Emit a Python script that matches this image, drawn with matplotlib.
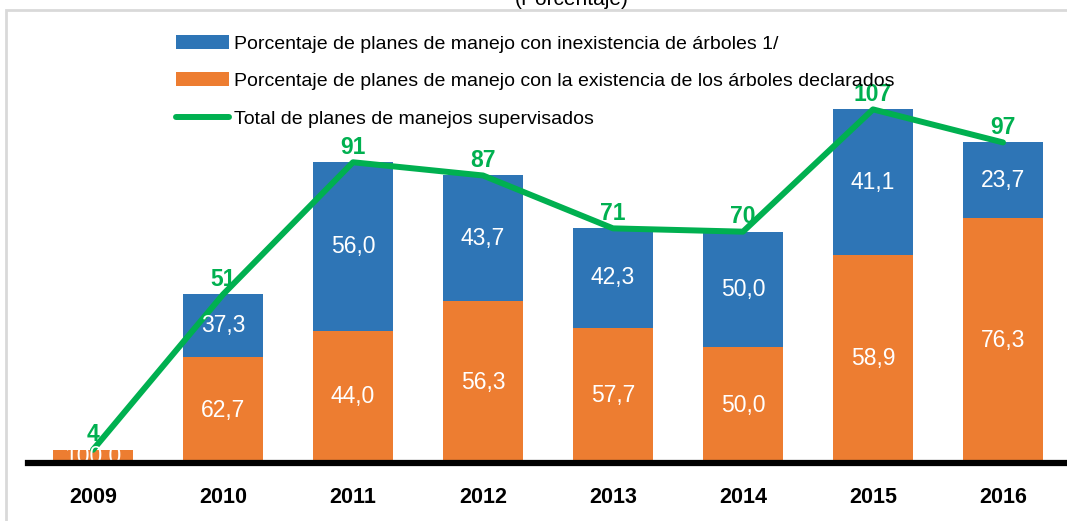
import numpy as np
import matplotlib.pyplot as plt
from matplotlib.patches import Rectangle

# datos
anios = ['2009', '2010', '2011', '2012', '2013', '2014', '2015', '2016']
total = [4, 51, 91, 87, 71, 70, 107, 97]
pct_inexistencia = [0.0, 37.3, 56.0, 43.7, 42.3, 50.0, 41.1, 23.7]
pct_existencia = [100.0, 62.7, 44.0, 56.3, 57.7, 50.0, 58.9, 76.3]

lbl_azul = 'Porcentaje de planes de manejo con inexistencia de árboles 1/'
lbl_naranja = 'Porcentaje de planes de manejo con la existencia de los árboles declarados'
lbl_verde = 'Total de planes de manejos supervisados'

azul = '#2E75B6'
naranja = '#ED7D31'
verde = '#00B050'

plt.rcParams['font.family'] = ['Liberation Sans', 'DejaVu Sans']

fig = plt.figure(figsize=(10.67, 5.21), dpi=100)
ax = fig.add_axes([28/1067, 58/521, 1040/1067, 463/521])

x = np.arange(len(anios))
tot = np.array(total, dtype=float)
h_nar = tot * np.array(pct_existencia) / 100
h_azu = tot * np.array(pct_inexistencia) / 100

b1 = ax.bar(x, h_nar, width=0.615, color=naranja, label=lbl_naranja, zorder=2)
b2 = ax.bar(x, h_azu, width=0.615, bottom=h_nar, color=azul, label=lbl_azul, zorder=2)
ln, = ax.plot(x, tot, color=verde, lw=4.3, solid_capstyle='round', label=lbl_verde, zorder=3)

# etiquetas de porcentaje dentro de las barras
for i in range(len(x)):
    ax.text(x[i], h_nar[i] / 2, f'{pct_existencia[i]:.1f}'.replace('.', ','),
            ha='center', va='center', color='white', fontsize=16.5, zorder=4)
    if pct_inexistencia[i] > 0:
        ax.text(x[i], h_nar[i] + h_azu[i] / 2, f'{pct_inexistencia[i]:.1f}'.replace('.', ','),
                ha='center', va='center', color='white', fontsize=16.5, zorder=4)
    ax.annotate(str(total[i]), (x[i], tot[i]), xytext=(0, 2.5), textcoords='offset points',
                ha='center', va='bottom', color=verde, fontsize=16.5, fontweight='bold', zorder=5)

ax.set_xlim(-0.5, 7.5)
ax.set_ylim(0, 140.1)
ax.axhline(0, color='black', lw=4.5, zorder=6, clip_on=False)
for s in ax.spines.values():
    s.set_visible(False)
ax.set_yticks([])
ax.set_xticks(x)
ax.set_xticklabels(anios, fontsize=15.5, fontweight='bold')
ax.tick_params(axis='x', length=0, pad=17)

ax.legend(handles=[b2, b1, ln], loc='upper left', bbox_to_anchor=(176/1067, 1 - 35/521),
          bbox_transform=fig.transFigure, frameon=False, fontsize=14.0,
          handlelength=2.7, handleheight=0.7, handletextpad=0.3, labelspacing=1.02,
          borderpad=0, borderaxespad=0)

# marco gris y titulo cortado
fig.patches.append(Rectangle((6/1067, -0.05), 1.1, 1 - 10/521 + 0.05, transform=fig.transFigure,
                             fill=False, edgecolor='#D9D9D9', lw=2, zorder=0))
fig.text(572/1067, 1 - 5/521, '(Porcentaje)', ha='center', va='baseline', fontsize=15)

fig.savefig('out.png', dpi=100)
